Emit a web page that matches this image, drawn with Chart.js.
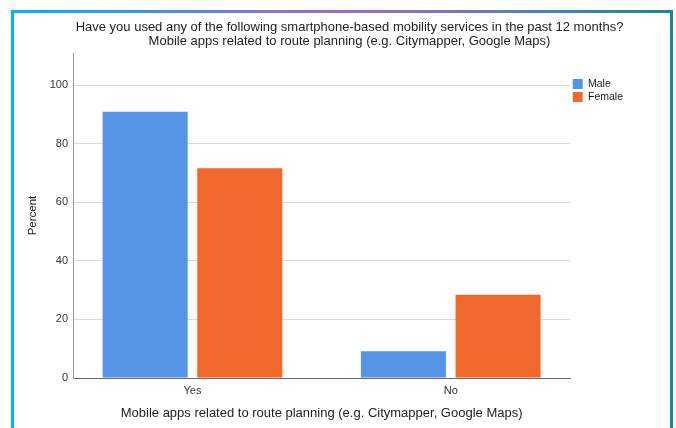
<!DOCTYPE html>
<html>
<head>
<meta charset="utf-8">
<script src="https://cdn.jsdelivr.net/npm/chart.js@4"></script>
<style>
  html, body { margin: 0; padding: 0; background: #ffffff; }
  #wrap { position: relative; width: 676px; height: 428px; overflow: hidden; background: #ffffff; }
  #c { position: absolute; left: 0; top: 0; }
  .fr { position: absolute; }
  #frTop { left: 11px; top: 10px; width: 662px; height: 3px;
    background: linear-gradient(to right, #00b5f1 0%, #4a8ee0 25%, #a768c4 50%, #5a7fbf 75%, #138a98 100%); }
  #frLeft { left: 11px; top: 10px; width: 3px; height: 418px; background: #00b5f1; }
  #frRight { left: 670px; top: 10px; width: 3px; height: 418px; background: #138a98; }
</style>
</head>
<body>
<div id="wrap">
  <canvas id="c" width="676" height="428"></canvas>
  <div class="fr" id="frTop"></div>
  <div class="fr" id="frLeft"></div>
  <div class="fr" id="frRight"></div>
</div>
<script>
// ---- data ----
const categories = ['Yes', 'No'];
const seriesNames = ['Male', 'Female'];
const maleValues = [90.9, 9.1];
const femaleValues = [71.6, 28.4];
const yTickValues = [0, 20, 40, 60, 80, 100];
const titleLines = [
  'Have you used any of the following smartphone-based mobility services in the past 12 months?',
  'Mobile apps related to route planning (e.g. Citymapper, Google Maps)'
];
const xAxisTitle = 'Mobile apps related to route planning (e.g. Citymapper, Google Maps)';
const yAxisTitle = 'Percent';

// ---- styling ----
const FONT = "'Liberation Sans', Arial, sans-serif";
const colors = ['#5595e5', '#f0682c'];
const xEdge = 0.4626; // extra space at each side of the category axis

const toPoints = vals => vals.map((v, i) => ({ x: i, y: v }));

new Chart(document.getElementById('c'), {
  type: 'bar',
  data: {
    datasets: [
      { label: seriesNames[0], data: toPoints(maleValues), backgroundColor: colors[0], borderWidth: 0 },
      { label: seriesNames[1], data: toPoints(femaleValues), backgroundColor: colors[1], borderWidth: 0 }
    ]
  },
  options: {
    responsive: false,
    animation: false,
    devicePixelRatio: 1,
    categoryPercentage: 0.733,
    barPercentage: 0.8985,
    layout: { padding: { top: 12, left: 25, right: 2, bottom: 6 } },
    plugins: {
      tooltip: { enabled: false },
      title: {
        display: true,
        text: titleLines,
        color: '#222',
        font: { family: FONT, size: 13, weight: 'normal', lineHeight: 1.05 },
        padding: { top: 8.67, bottom: 5.03 }
      },
      legend: {
        display: true,
        position: 'right',
        align: 'start',
        fullSize: false,
        title: { display: true, text: ' ', font: { family: FONT, size: 10, lineHeight: 1.2 }, padding: { top: 11.25, bottom: 0 } },
        labels: {
          boxWidth: 10,
          boxHeight: 10,
          padding: 2.5,
          color: '#1a1a1a',
          font: { family: FONT, size: 10.5 }
        }
      }
    },
    scales: {
      x: {
        type: 'linear',
        min: -xEdge,
        max: 1 + xEdge,
        offset: false,
        afterBuildTicks: s => { s.ticks = categories.map((c, i) => ({ value: i })); },
        afterFit: s => { s.height = 44; },
        grid: { display: false, drawTicks: false },
        border: { display: true, color: '#666', width: 1 },
        ticks: {
          padding: 6,
          color: '#333',
          font: { family: FONT, size: 11 },
          maxRotation: 0,
          autoSkip: false,
          callback: v => categories[v]
        },
        title: {
          display: true,
          text: xAxisTitle,
          color: '#222',
          font: { family: FONT, size: 13 },
          padding: { top: 0, bottom: 0.9 }
        }
      },
      y: {
        min: 0,
        max: 111,
        afterBuildTicks: s => { s.ticks = yTickValues.map(v => ({ value: v })); },
        afterFit: s => { s.width = 48; },
        grid: { color: '#d9d9d9', lineWidth: 1, drawTicks: false },
        border: { display: true, color: '#999', width: 1 },
        ticks: {
          padding: 5,
          color: '#333',
          font: { family: FONT, size: 11 }
        },
        title: {
          display: true,
          text: yAxisTitle,
          color: '#222',
          font: { family: FONT, size: 11.5 },
          padding: { top: 0.6, bottom: 0 }
        }
      },
      spacer: {
        type: 'linear',
        position: 'right',
        weight: 2000,
        display: true,
        afterFit: s => { s.width = 41; },
        grid: { display: false, drawTicks: false },
        border: { display: false },
        ticks: { display: false }
      }
    }
  }
});
</script>
</body>
</html>
